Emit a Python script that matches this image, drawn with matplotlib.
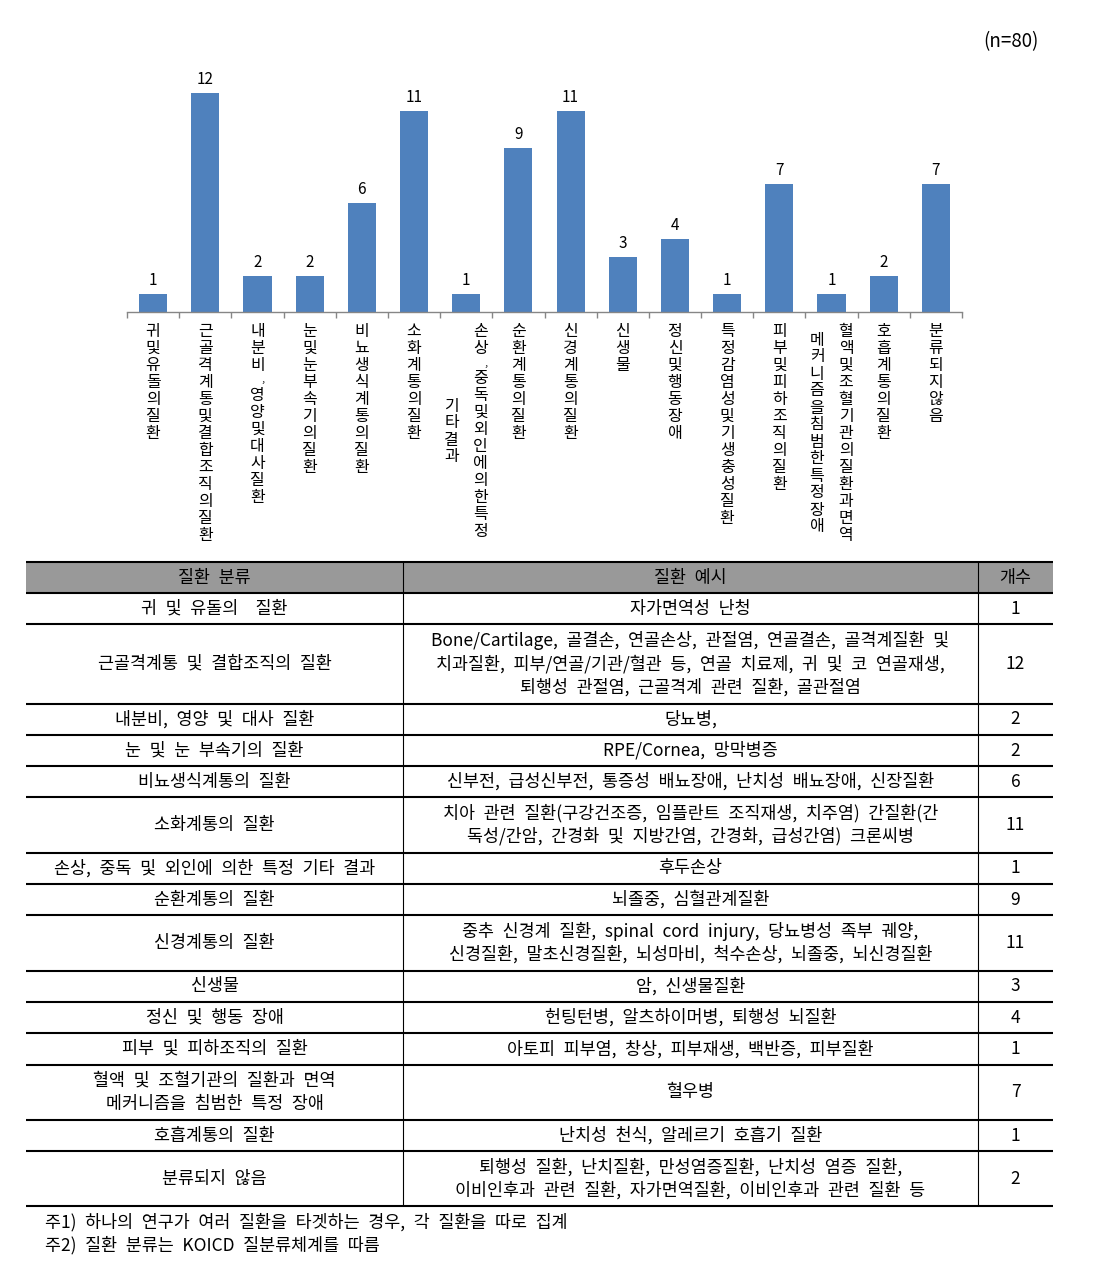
import matplotlib
matplotlib.use("Agg")
import matplotlib.pyplot as plt
from matplotlib.patches import Rectangle
from matplotlib.transforms import offset_copy

plt.rcParams['font.family'] = ['Noto Sans CJK KR', 'DejaVu Sans']

# chart data (16 categories, as in the bar chart)
chart_labels = [
    "귀 및 유돌의 질환",
    "근골격계통 및 결합조직의 질환",
    "내분비, 영양 및 대사 질환",
    "눈 및 눈 부속기의 질환",
    "비뇨생식계통의 질환",
    "소화계통의 질환",
    "손상, 중독 및 외인에 의한 특정\n기타 결과",
    "순환계통의 질환",
    "신경계통의 질환",
    "신생물",
    "정신 및 행동 장애",
    "특정 감염성 및 기생충성 질환",
    "피부 및 피하조직의 질환",
    "혈액 및 조혈기관의 질환과 면역\n메커니즘을 침범한 특정 장애",
    "호흡계통의 질환",
    "분류되지 않음",
]
chart_counts = [1, 12, 2, 2, 6, 11, 1, 9, 11, 3, 4, 1, 7, 1, 2, 7]
sample_note = "(n=80)"

# table data
table_header = ["질환 분류", "질환 예시", "개수"]
table_categories = [
    "귀 및 유돌의  질환",
    "근골격계통 및 결합조직의 질환",
    "내분비, 영양 및 대사 질환",
    "눈 및 눈 부속기의 질환",
    "비뇨생식계통의 질환",
    "소화계통의 질환",
    "손상, 중독 및 외인에 의한 특정 기타 결과",
    "순환계통의 질환",
    "신경계통의 질환",
    "신생물",
    "정신 및 행동 장애",
    "피부 및 피하조직의 질환",
    "혈액 및 조혈기관의 질환과 면역\n메커니즘을 침범한 특정 장애",
    "호흡계통의 질환",
    "분류되지 않음",
]
table_examples = [
    "자가면역성 난청",
    "Bone/Cartilage, 골결손, 연골손상, 관절염, 연골결손, 골격계질환 및\n"
    "치과질환, 피부/연골/기관/혈관 등, 연골 치료제, 귀 및 코 연골재생,\n"
    "퇴행성 관절염, 근골격계 관련 질환, 골관절염",
    "당뇨병,",
    "RPE/Cornea, 망막병증",
    "신부전, 급성신부전, 통증성 배뇨장애, 난치성 배뇨장애, 신장질환",
    "치아 관련 질환(구강건조증, 임플란트 조직재생, 치주염) 간질환(간\n"
    "독성/간암, 간경화 및 지방간염, 간경화, 급성간염) 크론씨병",
    "후두손상",
    "뇌졸중, 심혈관계질환",
    "중추 신경계 질환, spinal cord injury, 당뇨병성 족부 궤양,\n"
    "신경질환, 말초신경질환, 뇌성마비, 척수손상, 뇌졸중, 뇌신경질환",
    "암, 신생물질환",
    "헌팅턴병, 알츠하이머병, 퇴행성 뇌질환",
    "아토피 피부염, 창상, 피부재생, 백반증, 피부질환",
    "혈우병",
    "난치성 천식, 알레르기 호흡기 질환",
    "퇴행성 질환, 난치질환, 만성염증질환, 난치성 염증 질환,\n"
    "이비인후과 관련 질환, 자가면역질환, 이비인후과 관련 질환 등",
]
table_counts = [1, 12, 2, 2, 6, 11, 1, 9, 11, 3, 4, 1, 7, 1, 2]
notes = [
    "주1) 하나의 연구가 여러 질환을 타겟하는 경우, 각 질환을 따로 집계",
    "주2) 질환 분류는 KOICD 질분류체계를 따름",
]

BAR_COLOR = "#4F81BD"
AXIS_COLOR = "#868686"


def wide(text):
    # the source table is justified, so word gaps are wider than normal
    return text.replace(" ", "\u2002")


def draw_stacked_label(ax, x, label, fontsize=11.5):
    """Excel style stacked (vertical) label; extra columns go to the left."""
    columns = [c.replace(" ", "") for c in label.split("\n")]
    base = ax.get_xaxis_transform()
    col_gap = 29

    def advance(ch):
        return 13 if ch == "," else 17

    heights = [sum(advance(ch) for ch in c) for c in columns]
    for j, col in enumerate(columns):
        dx = (len(columns) - 1) / 2 * col_gap - j * col_gap
        y = 11 + (max(heights) - heights[j]) / 2
        for ch in col:
            adv = advance(ch)
            if ch == ",":
                tr = offset_copy(base, fig=ax.figure, x=dx + 5, y=-(y + adv / 2 - 1),
                                 units="dots")
                ax.text(x, 0, ch, transform=tr, ha="center", va="center",
                        fontsize=8, color="black")
            else:
                tr = offset_copy(base, fig=ax.figure, x=dx, y=-(y + adv / 2), units="dots")
                ax.text(x, 0, ch, transform=tr, ha="center", va="center",
                        fontsize=fontsize, color="black")
            y += adv


fig = plt.figure(figsize=(11, 12.68), dpi=100)

# ---- bar chart ----
ax = fig.add_axes([127 / 1100, 1 - 312 / 1268, (962 - 127) / 1100, (312 - 75) / 1268])
xs = list(range(len(chart_counts)))
ax.bar(xs, chart_counts, width=0.54, color=BAR_COLOR)
ax.set_xlim(-0.5, len(chart_counts) - 0.5)
ax.set_ylim(0, 13)
for x, v in zip(xs, chart_counts):
    ax.annotate(str(v), (x, v), xytext=(0, 9.7), textcoords="offset points",
                ha="center", va="center", fontsize=11)
for x, label in zip(xs, chart_labels):
    draw_stacked_label(ax, x, label)

for side in ["left", "right", "top"]:
    ax.spines[side].set_visible(False)
ax.spines["bottom"].set_color(AXIS_COLOR)
ax.spines["bottom"].set_linewidth(1.0)
ax.set_yticks([])
ax.set_xticks([x - 0.5 for x in xs] + [len(xs) - 0.5])
ax.set_xticklabels([])
ax.tick_params(axis="x", direction="out", length=4, color=AXIS_COLOR, width=1.0)

# ---- table and texts, drawn in pixel coordinates ----
tab = fig.add_axes([0, 0, 1, 1])
tab.set_xlim(0, 1100)
tab.set_ylim(1268, 0)
tab.axis("off")

tab.text(1011, 42, sample_note, ha="center", va="center", fontsize=13.5)

left, right = 26, 1053
col_edges = [left, 403, 978, right]
col_centers = [(a + b) / 2 for a, b in zip(col_edges[:-1], col_edges[1:])]
top = 562
header_h = 31
line_step = 23
fs = 12.5

tab.add_patch(Rectangle((left, top), right - left, header_h, color="#999999", lw=0))
for cx, h in zip(col_centers, table_header):
    tab.text(cx, top + header_h / 2, wide(h), ha="center", va="center", fontsize=fs)

y = top + header_h
h_lines = [top, y]
for cat, ex, cnt in zip(table_categories, table_examples, table_counts):
    n = max(cat.count("\n"), ex.count("\n")) + 1
    rh = 31.3 + 24 * (n - 1)
    yc = y + rh / 2
    for cx, cell in zip(col_centers, [cat, ex, str(cnt)]):
        lines = cell.split("\n")
        for k, line in enumerate(lines):
            ly = yc + (k - (len(lines) - 1) / 2) * line_step
            tab.text(cx, ly, wide(line), ha="center", va="center", fontsize=fs)
    y += rh
    h_lines.append(y)

tab.hlines(h_lines, left, right, colors="black", lw=1.5)
tab.vlines(col_edges[1:3], top, y, colors="black", lw=0.8)

for k, note in enumerate(notes):
    tab.text(45, y + 16 + k * 23, wide(note), ha="left", va="center", fontsize=fs)

fig.savefig("out.png", dpi=100)
plt.close(fig)
